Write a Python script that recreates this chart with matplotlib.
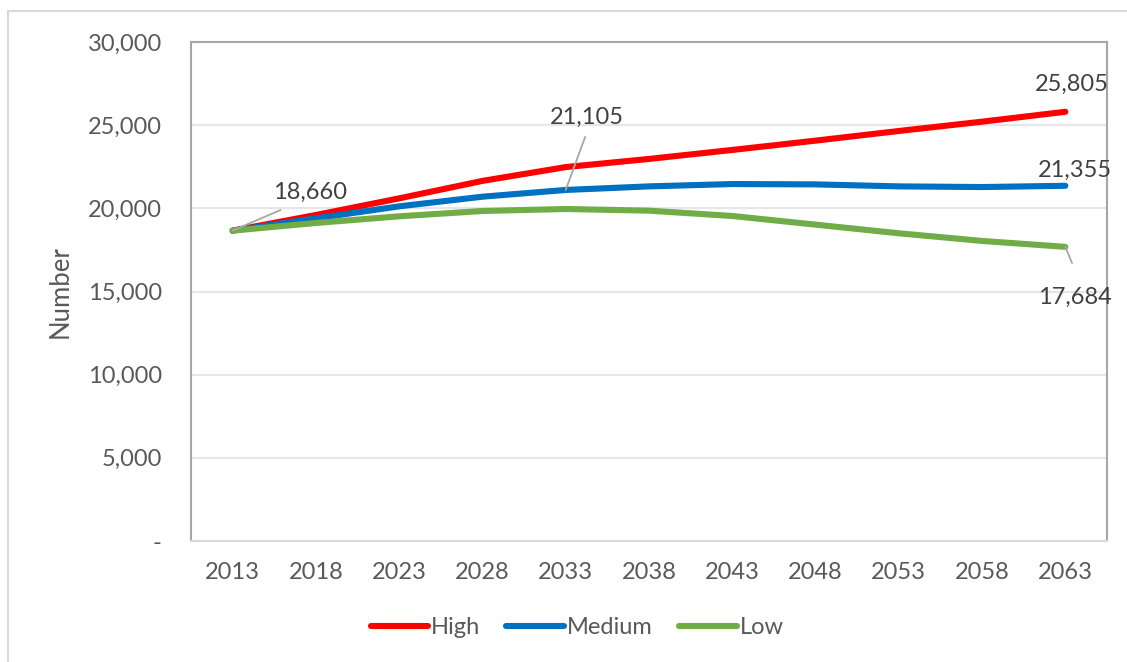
import matplotlib
matplotlib.use("Agg")
import matplotlib.pyplot as plt
from matplotlib.patches import Rectangle
from matplotlib.lines import Line2D
from matplotlib.ticker import FuncFormatter

plt.rcParams['font.family'] = ['Lato', 'DejaVu Sans']

years = ["2013", "2018", "2023", "2028", "2033", "2038", "2043", "2048", "2053", "2058", "2063"]
high = [18660, 19600, 20600, 21650, 22480, 22970, 23510, 24070, 24650, 25210, 25805]
medium = [18660, 19400, 20120, 20700, 21105, 21320, 21460, 21440, 21320, 21280, 21355]
low = [18660, 19120, 19520, 19840, 19960, 19860, 19540, 19020, 18500, 18040, 17684]

series_names = ["High", "Medium", "Low"]
series_colors = ["#FF0000", "#0070C0", "#70AD47"]

W, H = 1127, 662
FS = 17
fig = plt.figure(figsize=(W / 100, H / 100), dpi=100)
fig.patch.set_facecolor("white")

# outer chart border
fig.add_artist(Rectangle((8 / W, -0.05), 1.2, (H - 11) / H + 0.05,
                         transform=fig.transFigure, fill=False,
                         edgecolor="#d9d9d9", linewidth=1.5))

ax = fig.add_axes([191 / W, (H - 541) / H, (1107 - 191) / W, (541 - 42) / H])
x = list(range(len(years)))
for vals, name, col in zip([high, medium, low], series_names, series_colors):
    ax.plot(x, vals, color=col, linewidth=4.4, solid_capstyle="round",
            solid_joinstyle="round", label=name, zorder=3)

ax.set_xlim(-0.5, len(years) - 0.5)
ax.set_ylim(0, 30000)
ax.set_yticks(range(0, 30001, 5000))
ax.yaxis.set_major_formatter(FuncFormatter(lambda v, p: "-" if v == 0 else f"{int(v):,}"))
ax.set_xticks(x)
ax.set_xticklabels(years)
ax.tick_params(axis="both", length=0, labelsize=FS, labelcolor="#595959")
ax.tick_params(axis="y", pad=21)
ax.tick_params(axis="x", pad=15)
ax.grid(axis="y", color="#e6e6e6", linewidth=1.5, zorder=0)
for side in ["left", "top", "right"]:
    ax.spines[side].set_color("#a6a6a6")
    ax.spines[side].set_linewidth(1.5)
ax.spines["bottom"].set_color("#d9d9d9")
ax.spines["bottom"].set_linewidth(1.5)

ax.set_ylabel("Number", fontsize=18.5, color="#595959", labelpad=11)

# value labels with leader lines
lab_kw = dict(fontsize=FS, color="#404040", ha="center", va="center", zorder=5)
lead = dict(arrowstyle="-", color="#a6a6a6", lw=1.3, shrinkA=0, shrinkB=0)

ax.annotate(f"{high[0]:,}", xy=(0, high[0]), xytext=(0.935, 20980), **lab_kw)
ax.annotate("", xy=(0, high[0]), xytext=(0.576, 19900), arrowprops=lead)

ax.annotate(f"{medium[4]:,}", xy=(4, medium[4]), xytext=(4.257, 25490), **lab_kw)
ax.annotate("", xy=(4, medium[4]), xytext=(4.233, 24290), arrowprops=lead)

ax.annotate(f"{high[-1]:,}", xy=(10, high[-1]), xytext=(10.08, 27470), annotation_clip=False, **lab_kw)
ax.annotate(f"{medium[-1]:,}", xy=(10, medium[-1]), xytext=(10.11, 22300), annotation_clip=False, **lab_kw)

ax.annotate(f"{low[-1]:,}", xy=(10, low[-1]), xytext=(10.11, 14670), annotation_clip=False, **lab_kw)
ax.annotate("", xy=(10, low[-1]), xytext=(10.08, 16710), arrowprops=lead)

handles = [Line2D([0], [0], color=c, linewidth=4.4, solid_capstyle="round") for c in series_colors]
leg = fig.legend(handles, series_names, loc="center", bbox_to_anchor=(577 / W, (H - 628) / H),
                 ncol=3, frameon=False, fontsize=FS, handlelength=2.45, handletextpad=0.12,
                 columnspacing=1.1)
for t in leg.get_texts():
    t.set_color("#595959")

fig.savefig("out.png", dpi=100, facecolor="white")
